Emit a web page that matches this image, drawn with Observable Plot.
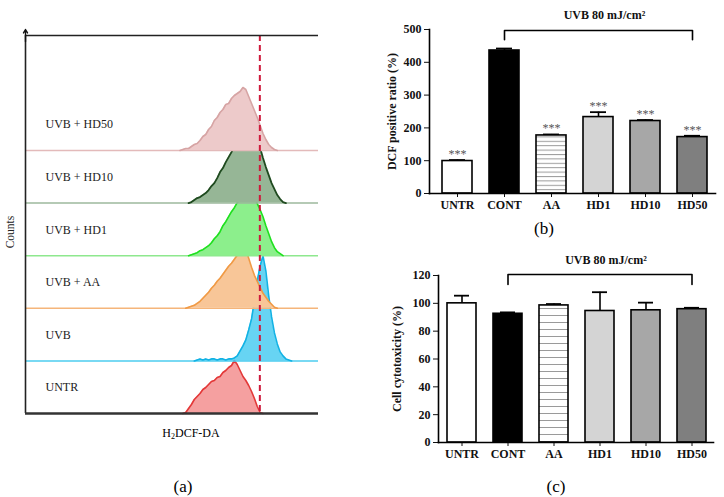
<!DOCTYPE html>
<html><head><meta charset="utf-8">
<script src="https://cdn.jsdelivr.net/npm/d3@7"></script>
<script src="https://cdn.jsdelivr.net/npm/@observablehq/plot@0.6"></script>
<style>
body{margin:0;background:#fff;}
#wrap{position:relative;width:724px;height:497px;overflow:hidden;font-family:"Liberation Serif",serif;color:#000;}
.panel{position:absolute;}
.lab{position:absolute;transform:translate(-50%,-50%);white-space:nowrap;}
.lab sub{font-size:8px;vertical-align:-2px;}
.rot{transform:translate(-50%,-50%) rotate(-90deg);}
</style></head><body><div id="wrap"></div>
<script>
// ---------- DATA ----------
// (a) flow cytometry histograms: shared channel bins + counts per sample
const channels = [540,550,560,570,580,590,600,610,620,630,640,650,660,670,680,690,700,710,720,730,740,750,760,770,780,790,800,810,820,830,840,850,860,870,880,890,900,910,920,930];
const histLabels = ["UNTR","UVB","UVB + AA","UVB + HD1","UVB + HD10","UVB + HD50"];
const countsUNTR = [0,0,1,5,9,14,17,20,24,26,29,32,33,36,37,41,43,46,48,53,49,43,37,33,28,22,15,7,1,0,0,0,0,0,0,0,0,0,0,0];
const countsUVB  = [0,0,0,0,0,0,1,2,1,2,1,2,2,1,2,2,1,2,2,3,5,10,15,21,31,42,60,80,95,105,90,65,44,28,17,9,5,2,1,0];
const countsAA   = [0,0,0,1,2,3,5,7,10,13,16,20,23,27,30,34,38,42,45,49,53,55,58,59,50,41,33,27,21,15,11,7,4,1,0,0,0,0,0,0];
const countsHD1  = [0,0,0,0,1,2,3,5,6,8,10,13,17,20,24,30,34,39,44,48,53,56,60,61,63,62,58,52,46,39,30,22,14,8,4,2,0,0,0,0];
const countsHD10 = [0,0,0,0,1,3,5,6,8,10,13,17,20,25,31,35,41,46,51,56,60,64,65,69,67,71,62,60,55,45,36,28,20,14,8,4,1,0,0,0];
const countsHD50 = [0,1,2,2,4,6,7,10,14,16,21,24,30,33,38,41,46,47,52,55,57,59,63,61,54,47,40,33,25,17,11,6,3,1,0,0,0,0,0,0];
const gateChannel = 819;

// (b), (c) bar charts
const groups = ["UNTR","CONT","AA","HD1","HD10","HD50"];
const dcfMean = [99,436,177,233,221,172];
const dcfErr  = [3,6,3,15,3,4];
const dcfSig  = ["***","","***","***","***","***"];
const dcfTicks = [0,100,200,300,400,500];
const cytoMean = [100,92.5,98.5,94.5,95,95.8];
const cytoErr  = [5.5,1,1,13.5,5.5,1];
const cytoTicks = [0,20,40,60,80,100,120];
const bracketText = "UVB 80 mJ/cm\u00B2";

// ---------- STYLE ----------
const SERIF = "Liberation Serif, Times New Roman, serif";
const TRACK = 52.6;
const histStyle = [
  {fill:"#f5a0a0", stroke:"#e33838", rule:"#333", op:1},
  {fill:"#3cc8ef", stroke:"#12b2e4", rule:"#4cccef", op:0.78},
  {fill:"#f8c698", stroke:"#f09a45", rule:"#f5b57a", op:1},
  {fill:"#8cef8c", stroke:"#1ee01e", rule:"#8ee88e", op:1},
  {fill:"#96b696", stroke:"#1f4a1f", rule:"#9cb89c", op:1},
  {fill:"#edcaca", stroke:"#d6a4a4", rule:"#e3baba", op:1}
];
const barFills = ["#ffffff","#000000","hatch","#d4d4d4","#a7a7a7","#7f7f7f"];

const wrap = document.getElementById("wrap");
function place(el, left, top){ el.classList.add("panel"); el.style.left = left+"px"; el.style.top = top+"px"; wrap.appendChild(el); }
function label(html, x, y, size, cls){ const d = document.createElement("div"); d.className="lab" + (cls ? " " + cls : ""); d.innerHTML = html; d.style.left = x+"px"; d.style.top = y+"px"; d.style.fontSize = size+"px"; wrap.appendChild(d); return d; }

// ---------- PANEL (a) ----------
const allCounts = [countsUNTR, countsUVB, countsAA, countsHD1, countsHD10, countsHD50];
const histMarks = [];
allCounts.forEach((counts, i) => {
  const base = i * TRACK;
  const st = histStyle[i];
  const first = Math.max(0, counts.findIndex(v => v > 0) - 1);
  let last = counts.length - 1; while (last > 0 && counts[last] === 0) last--; last = Math.min(counts.length - 1, last + 1);
  const rows = channels.map((c, j) => ({c, base, y: base + counts[j]})).slice(first, last + 1);
  if (i > 0) histMarks.push(Plot.ruleY([base], {stroke: st.rule, strokeWidth: 1.5}));
  histMarks.push(Plot.areaY(rows, {x: "c", y1: "base", y2: "y", fill: st.fill, fillOpacity: st.op}));
  histMarks.push(Plot.line(rows, {x: "c", y: "y", stroke: st.stroke, strokeWidth: i === 4 ? 1.8 : 1.6}));
});

const panelA = Plot.plot({
  width: 330, height: 430,
  marginLeft: 25, marginRight: 12, marginTop: 35, marginBottom: 17,
  style: {fontFamily: SERIF, fontSize: "12px", background: "transparent", overflow: "visible"},
  x: {domain: [0, 1024], axis: null},
  y: {domain: [0, 378], axis: null},
  marks: [
    ...histMarks,
    Plot.ruleX([gateChannel], {stroke: "#cf1a3c", strokeWidth: 2, strokeDasharray: "6,4"}),
    Plot.ruleY([378], {stroke: "#222", strokeWidth: 1.4}),
    Plot.ruleX([0], {stroke: "#222", strokeWidth: 1.6}),
    Plot.ruleY([0], {stroke: "#333", strokeWidth: 2.6}),
    Plot.arrow([0], {x1: 0, x2: 0, y1: 372, y2: 384, stroke: "#111", strokeWidth: 1.4, headLength: 6}),
    Plot.text(histLabels.map((l, i) => ({l, y: i * TRACK + 26})), {frameAnchor: "left", dx: 20, y: "y", text: "l", textAnchor: "start", fontSize: 12, fill: "#222"})
  ]
});
place(panelA, 0, 0);
label("Counts", 10, 232, 11.5, "rot").style.color = "#222";
label("H<sub>2</sub>DCF-DA", 191, 433, 12);
label("(a)", 183, 487, 17);

// ---------- BAR PANELS ----------
function barChart(o) {
  const rows = groups.map((g, i) => ({
    g, mean: o.means[i], top: o.means[i] + o.errs[i], sig: o.sig ? o.sig[i] : "",
    fill: barFills[i] === "hatch" ? `url(#${o.hatchId})` : barFills[i]
  }));
  const bracket = [
    {g: groups[1], y: o.bLow}, {g: groups[1], y: o.bHigh},
    {g: groups[5], y: o.bHigh}, {g: groups[5], y: o.bLow}
  ];
  const svg = Plot.plot({
    width: 354, height: o.height,
    marginLeft: o.ml, marginRight: o.mr, marginTop: o.mt, marginBottom: o.mb,
    style: {fontFamily: SERIF, fontSize: "12px", fontWeight: "bold", background: "transparent", overflow: "visible", color: "#111"},
    color: {type: "identity"},
    x: {type: "band", domain: groups, range: o.xr, paddingInner: 0.36, paddingOuter: 0.18, label: null},
    y: {domain: [0, o.ticks[o.ticks.length - 1]], label: o.yLabel},
    marks: [
      Plot.ruleX(rows, {x: "g", y1: "mean", y2: "top", stroke: "#000", strokeWidth: 1.6}),
      Plot.tickY(rows, {x: "g", y: "top", stroke: "#000", strokeWidth: 1.8, insetLeft: 7, insetRight: 7}),
      Plot.barY(rows, {x: "g", y: "mean", fill: "fill", stroke: "#000", strokeWidth: 1.6}),
      Plot.text(rows, {x: "g", y: "top", text: "sig", lineAnchor: "bottom", dy: -2, fontWeight: "normal", fontSize: 12, fill: "#555"}),
      Plot.line(bracket, {x: "g", y: "y", stroke: "#000", strokeWidth: 1.6}),
      Plot.text([bracketText], {x: () => groups[3], y: () => o.textY, dx: 6, fontSize: 12, fontWeight: "bold"}),
      Plot.axisY({ticks: o.ticks, tickSize: 5, tickPadding: 3, label: o.yLabel, labelAnchor: "center", labelOffset: o.labelOffset, labelArrow: "none"}),
      Plot.axisX({tickSize: 4, tickPadding: 3, label: null}),
      Plot.frame({anchor: "left", stroke: "#000", strokeWidth: 1.6}),
      Plot.frame({anchor: "bottom", stroke: "#000", strokeWidth: 1.6})
    ]
  });
  const ns = "http://www.w3.org/2000/svg";
  const defs = document.createElementNS(ns, "defs");
  const pat = document.createElementNS(ns, "pattern");
  pat.setAttribute("id", o.hatchId); pat.setAttribute("patternUnits", "userSpaceOnUse");
  pat.setAttribute("width", 10); pat.setAttribute("height", o.hatchGap);
  const bg = document.createElementNS(ns, "rect");
  bg.setAttribute("width", 10); bg.setAttribute("height", o.hatchGap); bg.setAttribute("fill", "#fff");
  const ln = document.createElementNS(ns, "rect");
  ln.setAttribute("width", 10); ln.setAttribute("height", 1); ln.setAttribute("fill", "#9a9a9a");
  pat.appendChild(bg); pat.appendChild(ln); defs.appendChild(pat);
  svg.insertBefore(defs, svg.firstChild);
  return svg;
}

const panelB = barChart({
  means: dcfMean, errs: dcfErr, sig: dcfSig, ticks: dcfTicks, yLabel: "DCF positive ratio (%)",
  bLow: 469, bHigh: 497, textY: 543, hatchId: "hatchB", hatchGap: 4.4,
  height: 245, ml: 59, mr: 9, mt: 29, mb: 52, xr: [63, 346], labelOffset: 42
});
place(panelB, 370, 0);
label("(b)", 544, 229, 17);

const panelC = barChart({
  means: cytoMean, errs: cytoErr, sig: null, ticks: cytoTicks, yLabel: "Cell cytotoxicity (%)",
  bLow: 113.5, bHigh: 120.7, textY: 131, hatchId: "hatchC", hatchGap: 7,
  height: 252, ml: 68, mr: 11, mt: 30, mb: 55, xr: [67, 347], labelOffset: 46
});
place(panelC, 370, 245);
label("(c)", 556, 487, 17);
</script>
</body></html>
